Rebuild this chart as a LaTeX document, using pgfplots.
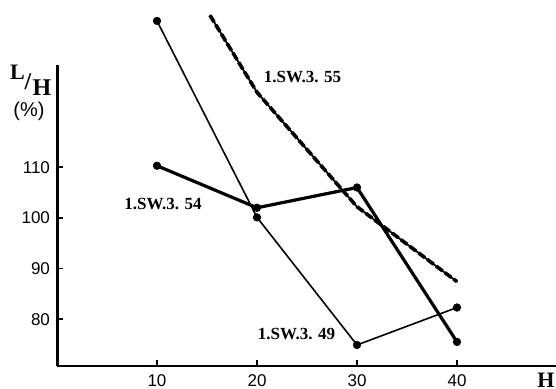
\documentclass[border=0pt]{standalone}
\usepackage{fontspec}
\setmainfont{Liberation Serif}
\setsansfont{Liberation Sans}
\usepackage{pgfplots}
\pgfplotsset{compat=1.18}
\begin{document}
\begin{tikzpicture}
\begin{axis}[
  at={(0,0)}, anchor=south west,
  scale only axis,
  width=250pt, height=150.5pt,
  xmin=0, xmax=50,
  ymin=70.75, ymax=130.2,
  clip=false,
  axis x line=bottom, axis y line=left,
  x axis line style={-, line width=1pt},
  y axis line style={-, line width=1.5pt},
  xtick={10,20,30,40}, ytick={80,90,100,110},
  tick align=inside,
  major tick length=3pt,
  tick style={line width=0.9pt, black},
  /pgf/number format/assume math mode=true,
  tick label style={font=\sffamily\fontsize{8.5}{9}\selectfont},
  xticklabel style={yshift=-1pt},
]
% series 1.SW.3.49 (thin)
\addplot[black, line width=0.8pt, mark=*, mark size=1.9pt, mark options={solid, line width=0.3pt}]
  coordinates {(10,138.9) (20,100.1) (30,74.9) (40,82.3)};
% series 1.SW.3.54 (thick)
\addplot[black, line width=1.6pt, mark=*, mark size=1.9pt, mark options={solid, line width=0.3pt}]
  coordinates {(10,110.3) (20,102.0) (30,106.0) (40,75.5)};
% series 1.SW.3.55 (dashed)
\addplot[black, line width=0.9pt, line cap=round]
  coordinates {(15.3,140.0) (20,124.8) (30,102.2) (40,87.4)};
\addplot[black, line width=1.8pt, dash pattern=on 4pt off 1.5pt]
  coordinates {(15.3,140.0) (20,124.8) (30,102.2) (40,87.4)};
\end{axis}
\node[font=\bfseries\fontsize{8.5}{9}\selectfont] at (122.75pt,144.25pt) {1.SW.3. 55};
\node[font=\bfseries\fontsize{8.5}{9}\selectfont] at (53pt,81pt) {1.SW.3. 54};
\node[font=\bfseries\fontsize{8.5}{9}\selectfont] at (119.75pt,16pt) {1.SW.3. 49};
\node[font=\bfseries\fontsize{11}{12}\selectfont, inner sep=0pt] at (-19.75pt,147pt) {L};
\node[font=\bfseries\fontsize{12}{13}\selectfont, inner sep=0pt] at (-14.5pt,142pt) {/};
\node[font=\bfseries\fontsize{12}{13}\selectfont, inner sep=0pt] at (-7.5pt,139pt) {H};
\node[font=\sffamily\fontsize{10}{11}\selectfont, inner sep=0pt] at (-14pt,127.5pt) {(\%)};
\node[font=\bfseries\fontsize{11}{12}\selectfont, inner sep=0pt] at (244.5pt,-7pt) {H};
\pgfresetboundingbox
\path[use as bounding box] (-28.5pt,-11.5pt) rectangle (249.5pt,183pt);
\end{tikzpicture}
\end{document}
